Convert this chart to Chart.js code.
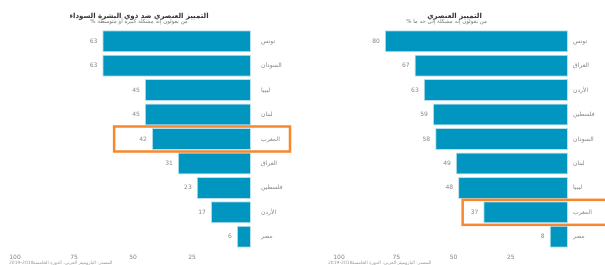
<!DOCTYPE html>
<html>
<head>
<meta charset="utf-8">
<script src="https://cdn.jsdelivr.net/npm/chart.js@4"></script>
<style>
  body { margin: 0; background: #fff; }
  .box { position: absolute; top: 0; height: 265px; }
  #left { left: 0; width: 300px; }
  #right { left: 300px; width: 305px; }
</style>
</head>
<body>
<div class="box" id="left"><canvas id="c1"></canvas></div>
<div class="box" id="right"><canvas id="c2"></canvas></div>
<script>
"use strict";
// left panel
const leftTitle = "التمييز العنصري ضد ذوي البشرة السوداء";
const leftSub = "% من يقولون إنه مشكلة كبيرة أو متوسطة";
const leftCats = ["تونس", "السودان", "ليبيا", "لبنان", "المغرب", "العراق", "فلسطين", "الأردن", "مصر"];
const leftVals = [63, 63, 45, 45, 42, 31, 23, 17, 6];
// right panel
const rightTitle = "التمييز العنصري";
const rightSub = "% من يقولون إنه مشكلة إلى حد ما";
const rightCats = ["تونس", "العراق", "الأردن", "فلسطين", "السودان", "لبنان", "ليبيا", "المغرب", "مصر"];
const rightVals = [80, 67, 63, 59, 58, 49, 48, 37, 8];
const xTicks = [25, 50, 75, 100];
const sourceText = "المصدر: الباروميتر العربي، الدورة الخامسة";
const highlight = "المغرب";

const font = "DejaVu Sans";
const barColor = "#0096bf";
const orange = "#f7882f";

const decorPlugin = {
    id: "decor",
    afterDatasetsDraw(chart, args, o) {
        const c = chart.ctx;
        const area = chart.chartArea;
        const meta = chart.getDatasetMeta(0);
        // value labels
        c.save();
        c.font = "6px '" + font + "'";
        c.fillStyle = "#8a8a8a";
        c.textAlign = "right";
        c.textBaseline = "middle";
        meta.data.forEach((bar, i) => {
            c.fillText(String(chart.data.datasets[0].data[i]), bar.x - 5, bar.y);
        });
        // titles
        const cx = (area.left + area.right) / 2 + o.titleShift;
        c.textAlign = "center";
        c.fillStyle = "#333";
        c.font = "bold 7px '" + font + "'";
        c.fillText(o.title, cx, 16);
        c.fillStyle = "#777";
        c.font = "5.5px '" + font + "'";
        c.fillText(o.sub, cx + o.subShift, 22);
        // source
        if (o.source) {
            c.textAlign = "left";
            c.font = "4.5px '" + font + "'";
            c.fillStyle = "#999";
            c.fillText("2019-2018", o.sourceX, 263);
            c.fillText(o.source, o.sourceX + 24, 263);
        }
        // highlight box
        const idx = chart.data.labels.indexOf(highlight);
        const yMid = chart.scales.y.getPixelForValue(idx);
        const x0 = chart.scales.x.getPixelForValue(o.boxFrom);
        c.strokeStyle = orange;
        c.lineWidth = 2.5;
        c.strokeRect(x0, yMid - 12.5, o.boxRight - x0, 25);
        c.restore();
    }
};

function makeChart(id, cats, vals, padLeft, yWidth, tickPad, deco) {
    return new Chart(document.getElementById(id), {
        type: "bar",
        data: {
            labels: cats,
            datasets: [{
                data: vals,
                backgroundColor: barColor,
                borderColor: "#b9e0ec",
                borderWidth: 1,
                borderSkipped: false,
                categoryPercentage: 0.9,
                barPercentage: 1
            }]
        },
        plugins: [decorPlugin],
        options: {
            indexAxis: "y",
            responsive: true,
            maintainAspectRatio: false,
            animation: false,
            layout: { padding: { left: padLeft, top: 29, bottom: 2, right: 0 } },
            plugins: {
                legend: { display: false },
                tooltip: { enabled: false },
                decor: deco
            },
            scales: {
                x: {
                    reverse: true,
                    min: 0,
                    max: 100,
                    grid: { display: false, drawTicks: false },
                    border: { display: false },
                    afterBuildTicks: (axis) => axis.ticks = xTicks.map(v => ({ value: v })),
                    afterFit: (axis) => { axis.height = 14; },
                    ticks: {
                        font: { family: font, size: 6 },
                        color: "#888",
                        padding: 5,
                        maxRotation: 0
                    }
                },
                y: {
                    position: "right",
                    grid: { display: false, drawTicks: false },
                    border: { display: false },
                    afterFit: (axis) => { axis.width = yWidth; },
                    ticks: {
                        font: { family: font, size: 6 },
                        color: "#888",
                        padding: tickPad
                    }
                }
            }
        }
    });
}

makeChart("c1", leftCats, leftVals, 15, 49, 10, {
    title: leftTitle, sub: leftSub, titleShift: 6, subShift: 0,
    source: sourceText, sourceX: 9, boxFrom: 58, boxRight: 290
});
makeChart("c2", rightCats, rightVals, 39, 37, 5, {
    title: rightTitle, sub: rightSub, titleShift: 1, subShift: -8,
    source: sourceText, sourceX: 28, boxFrom: 46, boxRight: 310
});
</script>
</body>
</html>
